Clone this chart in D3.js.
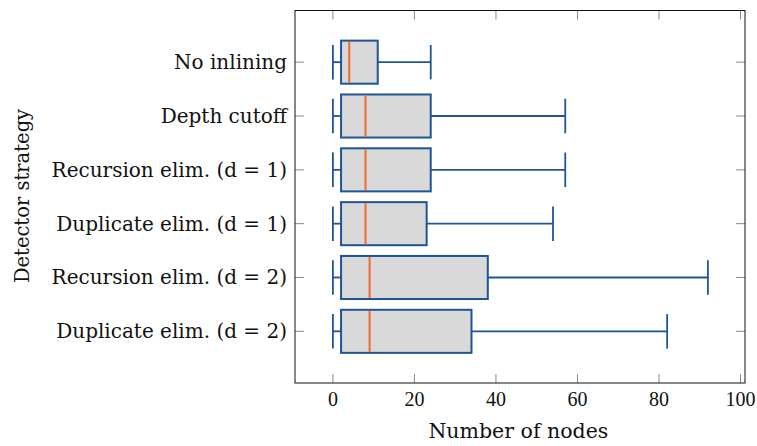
<!DOCTYPE html>
<html>
<head>
<meta charset="utf-8">
<script src="https://cdn.jsdelivr.net/npm/d3@7"></script>
<style>
  body { margin: 0; background: #fff; }
  text { font-family: "DejaVu Serif", serif; fill: #111; }
</style>
</head>
<body>
<div id="chart"></div>
<script>
const strategies = ["No inlining", "Depth cutoff", "Recursion elim. (d = 1)",
                    "Duplicate elim. (d = 1)", "Recursion elim. (d = 2)", "Duplicate elim. (d = 2)"];
const lowerWhisker = [0, 0, 0, 0, 0, 0];
const lowerQuartile = [2, 2, 2, 2, 2, 2];
const medians = [4, 8, 8, 8, 9, 9];
const upperQuartile = [11, 24, 24, 23, 38, 34];
const upperWhisker = [24, 57, 57, 54, 92, 82];
const xTicks = [0, 20, 40, 60, 80, 100];

const w = 757, h = 446;
const margin = {top: 10.5, right: 12, bottom: 63, left: 295};
const iw = w - margin.left - margin.right,
      ih = h - margin.top - margin.bottom;

const svg = d3.select("#chart")
  .append("svg")
  .attr("width", w)
  .attr("height", h)
  .append("g")
  .attr("transform", "translate(" + margin.left + "," + margin.top + ")");

const x = d3.scaleLinear().domain([-9.3, 101.1]).range([0, iw]);
const y = d3.scaleLinear().domain([0.04, 6.96]).range([0, ih]);

const boxes = strategies.map((s, i) => ({
  name: s, pos: i + 1,
  lw: lowerWhisker[i], q1: lowerQuartile[i], med: medians[i],
  q3: upperQuartile[i], uw: upperWhisker[i]
}));

const step = y(2) - y(1);
const boxH = step * 0.8;
const capH = boxH * 0.8;

// ticks (drawn inward on all four sides)
const tickLen = 9;
const tickColor = "#8a8a8a";
xTicks.forEach(t => {
  svg.append("line").attr("x1", x(t)).attr("x2", x(t)).attr("y1", ih).attr("y2", ih - tickLen)
    .attr("stroke", tickColor).attr("stroke-width", 1);
  svg.append("line").attr("x1", x(t)).attr("x2", x(t)).attr("y1", 0).attr("y2", tickLen)
    .attr("stroke", tickColor).attr("stroke-width", 1);
});
boxes.forEach(d => {
  svg.append("line").attr("x1", 0).attr("x2", tickLen).attr("y1", y(d.pos)).attr("y2", y(d.pos))
    .attr("stroke", tickColor).attr("stroke-width", 1);
  svg.append("line").attr("x1", iw).attr("x2", iw - tickLen).attr("y1", y(d.pos)).attr("y2", y(d.pos))
    .attr("stroke", tickColor).attr("stroke-width", 1);
});

const blue = "#1f5596";
const g = svg.selectAll(".box").data(boxes).enter().append("g").attr("class", "box");

// whisker lines
g.append("line")
  .attr("x1", d => x(d.lw)).attr("x2", d => x(d.q1))
  .attr("y1", d => y(d.pos)).attr("y2", d => y(d.pos))
  .attr("stroke", blue).attr("stroke-width", 1.8);
g.append("line")
  .attr("x1", d => x(d.q3)).attr("x2", d => x(d.uw))
  .attr("y1", d => y(d.pos)).attr("y2", d => y(d.pos))
  .attr("stroke", blue).attr("stroke-width", 1.8);
// caps
g.append("line")
  .attr("x1", d => x(d.lw)).attr("x2", d => x(d.lw))
  .attr("y1", d => y(d.pos) - capH / 2).attr("y2", d => y(d.pos) + capH / 2)
  .attr("stroke", blue).attr("stroke-width", 1.8);
g.append("line")
  .attr("x1", d => x(d.uw)).attr("x2", d => x(d.uw))
  .attr("y1", d => y(d.pos) - capH / 2).attr("y2", d => y(d.pos) + capH / 2)
  .attr("stroke", blue).attr("stroke-width", 1.8);
// box
g.append("rect")
  .attr("x", d => x(d.q1))
  .attr("y", d => y(d.pos) - boxH / 2)
  .attr("width", d => x(d.q3) - x(d.q1))
  .attr("height", boxH)
  .attr("fill", "#d9d9d9")
  .attr("stroke", blue)
  .attr("stroke-width", 2);
// median
g.append("line")
  .attr("x1", d => x(d.med)).attr("x2", d => x(d.med))
  .attr("y1", d => y(d.pos) - boxH / 2 + 1).attr("y2", d => y(d.pos) + boxH / 2 - 1)
  .attr("stroke", "#f26a2e").attr("stroke-width", 2);

// frame
svg.append("rect")
  .attr("x", 0).attr("y", 0).attr("width", iw).attr("height", ih)
  .attr("fill", "none").attr("stroke", "#111").attr("stroke-width", 1);

// tick labels
svg.selectAll(".xlabel").data(xTicks).enter().append("text")
  .attr("x", d => x(d)).attr("y", ih + 23)
  .attr("text-anchor", "middle")
  .style("font-family", "'Liberation Serif', serif")
  .style("font-size", "20px")
  .text(d => d);

svg.selectAll(".ylabel").data(boxes).enter().append("text")
  .attr("x", -8).attr("y", d => y(d.pos))
  .attr("dy", "0.35em")
  .attr("text-anchor", "end")
  .style("font-size", "20px")
  .text(d => d.name);

// axis titles
svg.append("text")
  .attr("x", x(45.5)).attr("y", ih + 55)
  .attr("text-anchor", "middle")
  .style("font-size", "20.5px")
  .text("Number of nodes");

svg.append("text")
  .attr("transform", "translate(" + (-margin.left + 29) + "," + (196 - margin.top) + ") rotate(-90)")
  .attr("text-anchor", "middle")
  .style("font-size", "19.5px")
  .text("Detector strategy");
</script>
</body>
</html>
